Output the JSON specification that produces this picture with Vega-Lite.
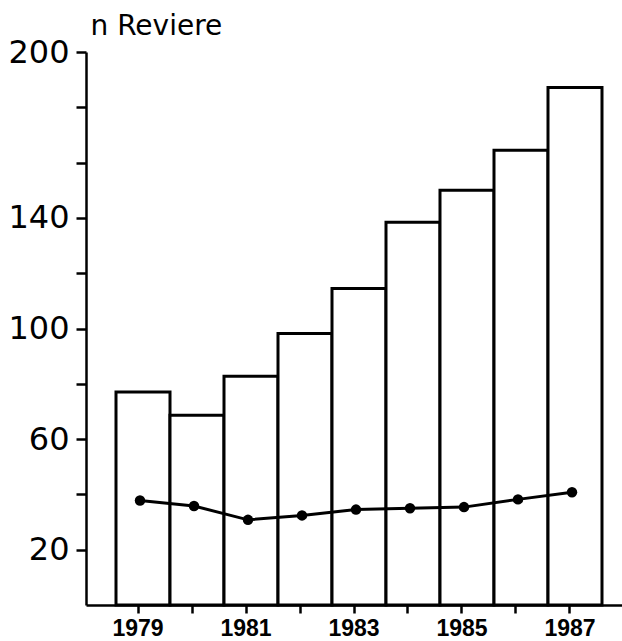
{
  "$schema": "https://vega.github.io/schema/vega-lite/v6.json",
  "width": 536,
  "height": 553,
  "autosize": {"type": "none"},
  "padding": {"left": 86, "top": 52, "right": 0, "bottom": 36},
  "background": "white",
  "config": {
    "view": {"stroke": null},
    "axis": {"grid": false, "domainColor": "black", "tickColor": "black", "labelColor": "black", "titleColor": "black", "domainWidth": 2.5, "tickWidth": 2.5}
  },
  "data": {
    "values": [
      {"year": 1979, "total": 77.0, "line": 37.8},
      {"year": 1980, "total": 68.6, "line": 35.8},
      {"year": 1981, "total": 82.7, "line": 30.8},
      {"year": 1982, "total": 98.2, "line": 32.4},
      {"year": 1983, "total": 114.5, "line": 34.5},
      {"year": 1984, "total": 138.4, "line": 35.0},
      {"year": 1985, "total": 150.0, "line": 35.4},
      {"year": 1986, "total": 164.5, "line": 38.2},
      {"year": 1987, "total": 187.2, "line": 40.8}
    ]
  },
  "layer": [
    {
      "mark": {"type": "bar", "fill": "white", "stroke": "black", "strokeWidth": 3, "xOffset": 5, "width": {"band": 1}},
      "encoding": {
        "x": {
          "field": "year",
          "type": "ordinal",
          "scale": {"paddingInner": 0, "paddingOuter": 0.463},
          "axis": {
            "title": null,
            "labelAngle": 0,
            "labelExpr": "datum.value % 2 == 1 ? datum.label : ''",
            "labelFont": "Arial",
            "labelFontWeight": 900,
            "labelFontSize": 23,
            "labelBaseline": "top",
            "labelPadding": 4,
            "tickSize": 8
          }
        },
        "y": {
          "field": "total",
          "type": "quantitative",
          "scale": {"domain": [0, 200], "nice": false},
          "axis": {
            "values": [20, 40, 60, 80, 100, 120, 140, 160, 180, 200],
            "labelExpr": "(datum.value == 20 || datum.value == 60 || datum.value == 100 || datum.value == 140 || datum.value == 200) ? datum.label : ''",
            "labelFont": "DejaVu Sans",
            "labelFontSize": 32,
            "labelPadding": 7,
            "tickSize": 10,
            "title": "n Reviere",
            "titleAngle": 0,
            "titleAlign": "left",
            "titleBaseline": "alphabetic",
            "titleX": 4,
            "titleY": -18,
            "titleFont": "DejaVu Sans",
            "titleFontSize": 28,
            "titleFontWeight": "normal"
          }
        }
      }
    },
    {
      "mark": {"type": "line", "color": "black", "strokeWidth": 3, "xOffset": 2, "point": {"filled": true, "color": "black", "size": 110, "xOffset": 2}},
      "encoding": {
        "x": {"field": "year", "type": "ordinal"},
        "y": {"field": "line", "type": "quantitative"}
      }
    }
  ]
}
